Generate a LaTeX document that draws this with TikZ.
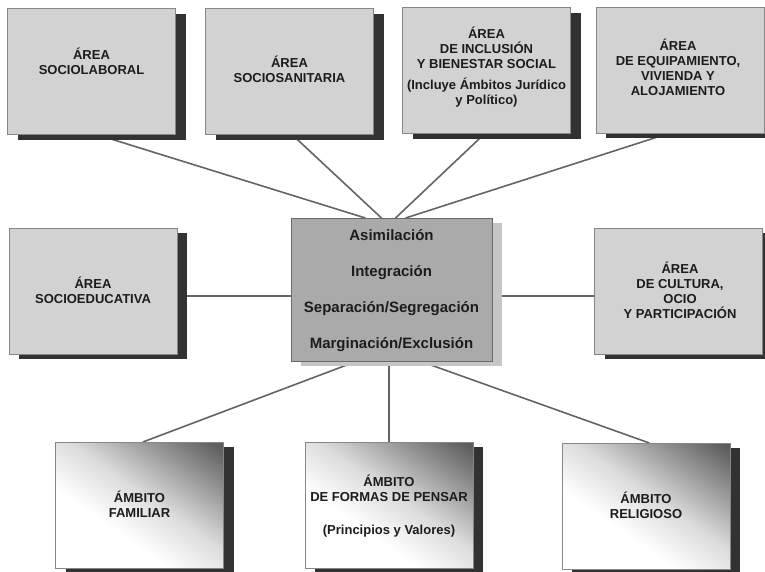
\documentclass[tikz,border=0pt]{standalone}
\usepackage{fontspec}
\setmainfont{Liberation Sans}
\usetikzlibrary{calc,shadows,backgrounds}
\definecolor{areafill}{RGB}{210,210,210}
\definecolor{boxline}{RGB}{135,135,135}
\definecolor{shadowcol}{RGB}{50,50,50}
\definecolor{cenfill}{RGB}{170,170,170}
\definecolor{cenline}{RGB}{105,105,105}
\definecolor{censhadow}{RGB}{198,198,198}
\definecolor{linkcol}{RGB}{100,100,100}
\definecolor{txtcol}{RGB}{28,28,28}
\pgfdeclarehorizontalshading{ambitoshade}{100bp}{color(0bp)=(white); color(38bp)=(white); color(54bp)=(black!14); color(68bp)=(black!38); color(82bp)=(black!62); color(92bp)=(black!74); color(100bp)=(black!76)}
\begin{document}
\begin{tikzpicture}[x=1pt,y=-1pt,
  boxbase/.style={rectangle, inner sep=0pt, outer sep=0pt, minimum width=168pt, minimum height=126pt, line width=0.8pt},
  areabox/.style={boxbase, draw=boxline, fill=areafill,
     drop shadow={shadow xshift=10pt, shadow yshift=-5pt, fill=shadowcol, opacity=1}},
  ambitobox/.style={boxbase, draw=boxline, shading=ambitoshade, shading angle=55,
     drop shadow={shadow xshift=10pt, shadow yshift=-5pt, fill=shadowcol, opacity=1}},
  cenbox/.style={boxbase, minimum width=201pt, minimum height=143pt, draw=cenline, fill=cenfill,
     drop shadow={shadow xshift=10pt, shadow yshift=-5pt, fill=censhadow, opacity=1}},
  lbl/.style={align=center, inner sep=0pt, text=txtcol, font=\bfseries\fontsize{13}{15}\selectfont},
  cenlbl/.style={align=center, inner sep=0pt, text=txtcol, font=\bfseries\fontsize{15}{36}\selectfont},
  link/.style={draw=linkcol, line width=1.6pt}]
\useasboundingbox (0,0) rectangle (765,571);

% boxes
\node[areabox] (soclab) at (91.5,71.5) {};
\node[areabox] (socsan) at (289.5,71.5) {};
\node[areabox] (incl) at (486.5,70.5) {};
\node[areabox] (equip) at (680,70) {};
\node[areabox] (edu) at (93,291) {};
\node[areabox] (cult) at (678.5,291) {};
\node[cenbox] (cen) at (391.5,289.5) {};
\node[ambitobox] (fam) at (139.5,505) {};
\node[ambitobox] (formas) at (389,505) {};
\node[ambitobox] (rel) at (646,506) {};

% labels
\node[lbl] (l1) at (91.5,61) {ÁREA\\SOCIOLABORAL};
\node[lbl] (l2) at (289.5,69) {ÁREA\\SOCIOSANITARIA};
\node[lbl] (l3) at (486.5,67.5) {ÁREA\\DE INCLUSIÓN\\Y BIENESTAR SOCIAL\\[6pt](Incluye Ámbitos Jurídico\\y Político)};
\node[lbl] (l4) at (678,67.5) {ÁREA\\DE EQUIPAMIENTO,\\VIVIENDA Y\\ALOJAMIENTO};
\node[lbl] (l5) at (93,290.5) {ÁREA\\SOCIOEDUCATIVA};
\node[lbl] (l6) at (680,290.5) {ÁREA\\DE CULTURA,\\OCIO\\Y PARTICIPACIÓN};
\node[cenlbl] (l7) at (391.5,290.5) {Asimilación\\Integración\\Separación/Segregación\\Marginación/Exclusión};
\node[lbl] (l8) at (139.5,504.5) {ÁMBITO\\FAMILIAR};
\node[lbl] (l9) at (389,506.5) {ÁMBITO\\DE FORMAS DE PENSAR\\[18pt](Principios y Valores)};
\node[lbl] (l10) at (646,505) {ÁMBITO\\RELIGIOSO};

% connectors
\begin{scope}[on background layer]
\draw[link] ($(soclab.south west)!0.53!(soclab.south east)$) -- ($(cen.north west)!0.37!(cen.north east)$);
\draw[link] ($(socsan.south west)!0.515!(socsan.south east)$) -- ($(cen.north west)!0.45!(cen.north east)$);
\draw[link] ($(incl.south west)!0.49!(incl.south east)$) -- ($(cen.north west)!0.52!(cen.north east)$);
\draw[link] ($(equip.south west)!0.44!(equip.south east)$) -- ($(cen.north west)!0.57!(cen.north east)$);
\coordinate (eduR) at ($(edu.north east)!0.54!(edu.south east)$);
\draw[link] (eduR) -- (eduR -| cen.west);
\coordinate (cultL) at ($(cult.north west)!0.54!(cult.south west)$);
\draw[link] (cultL) -- (cultL -| cen.east);
\draw[link] ($(cen.south west)!0.33!(cen.south east)$) -- ($(fam.north west)!0.52!(fam.north east)$);
\draw[link] (formas.north |- cen.south) -- (formas.north);
\draw[link] ($(cen.south west)!0.64!(cen.south east)$) -- ($(rel.north west)!0.52!(rel.north east)$);
\end{scope}
\end{tikzpicture}
\end{document}
